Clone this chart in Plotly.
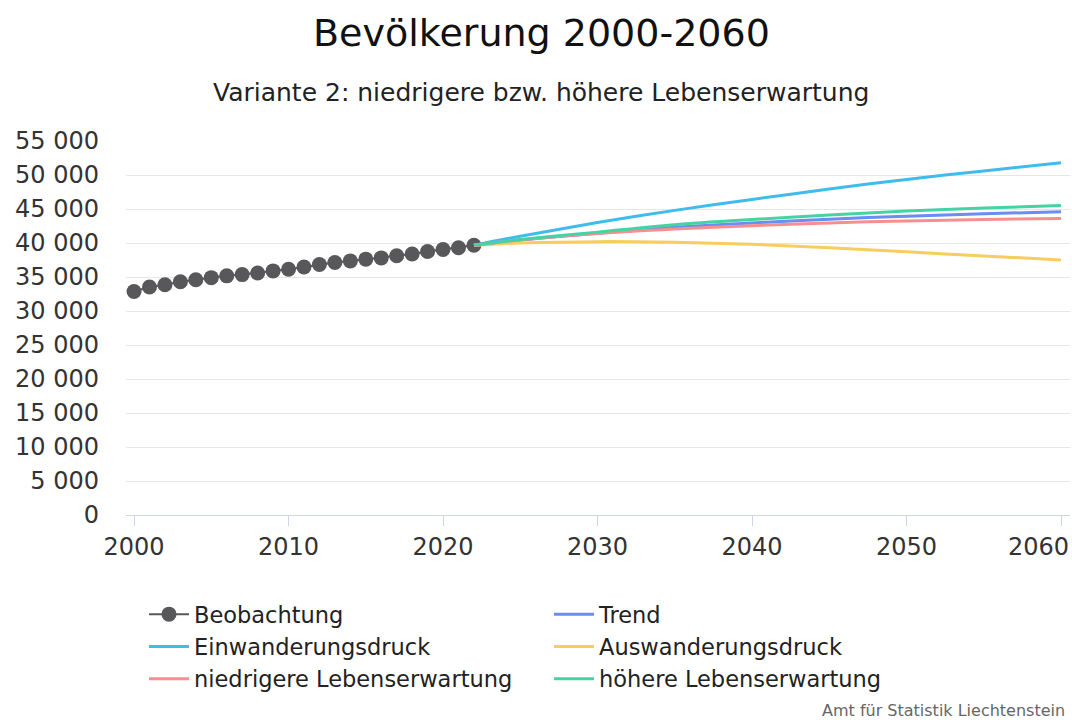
import plotly.graph_objects as go

obs_years = list(range(2000, 2023))
obs_values = [32863, 33525, 33863, 34294, 34600, 34905, 35168, 35356, 35589, 35894,
              36149, 36475, 36838, 37129, 37366, 37622, 37810, 38114, 38378, 38747,
              39055, 39308, 39680]

proj_years = [2022, 2025, 2030, 2035, 2040, 2045, 2050, 2055, 2060]
trend = [39680, 40450, 41450, 42300, 42950, 43500, 43950, 44300, 44600]
einwanderung = [39680, 41000, 43000, 44800, 46400, 47950, 49350, 50600, 51800]
auswanderung = [39680, 40000, 40200, 40100, 39800, 39300, 38700, 38100, 37500]
niedrigere = [39680, 40450, 41400, 42050, 42550, 42950, 43250, 43450, 43600]
hoehere = [39680, 40500, 41600, 42700, 43450, 44100, 44700, 45150, 45500]

y_ticks = list(range(0, 55001, 5000))
x_ticks = [2000, 2010, 2020, 2030, 2040, 2050, 2060]
x_labels = ["2000", "2010", "2020", "2030", "2040", "2050", "2060"]

FONT = "DejaVu Sans"
W, H = 1072, 720
L, R, T, B = 126, 2, 141, 205
PW, PH = W - L - R, H - T - B


def px_x(p):
    return (p - L) / PW


def px_y(p):
    return (H - B - p) / PH


fig = go.Figure()
fig.add_trace(go.Scatter(x=obs_years, y=obs_values, name="Beobachtung", mode="lines+markers",
                         line=dict(color="#58585b", width=2), marker=dict(size=15, color="#58585b")))
series = [
    ("Trend", trend, "#6a8cf3"),
    ("Einwanderungsdruck", einwanderung, "#3fbcec"),
    ("Auswanderungsdruck", auswanderung, "#f6cd5f"),
    ("niedrigere Lebenserwartung", niedrigere, "#f78f8f"),
    ("höhere Lebenserwartung", hoehere, "#45d3a3"),
]
for name, vals, col in series:
    fig.add_trace(go.Scatter(x=proj_years, y=vals, name=name, mode="lines",
                             line=dict(color=col, width=3, shape="spline", smoothing=0.8)))

# last x tick label is justified inside the figure (as in the reference)
tick_text = x_labels[:-1] + [""]

fig.update_layout(
    width=W, height=H,
    margin=dict(l=L, r=R, t=T, b=B, autoexpand=False),
    plot_bgcolor="white", paper_bgcolor="white",
    font=dict(family=FONT, color="#333333", size=22),
    separators=", ",
    showlegend=True,
    legend=dict(orientation="h", x=px_x(144), xanchor="left", y=px_y(593), yanchor="top",
                entrywidth=350, entrywidthmode="pixels", font=dict(size=22.5, color="#222222"),
                tracegroupgap=0, itemwidth=40),
    annotations=[
        dict(text="Bevölkerung 2000-2060", x=px_x(541), y=px_y(33), xref="paper", yref="paper",
             xanchor="center", yanchor="middle", showarrow=False,
             font=dict(size=38, color="#111111")),
        dict(text="Variante 2: niedrigere bzw. höhere Lebenserwartung", x=px_x(541), y=px_y(93),
             xref="paper", yref="paper", xanchor="center", yanchor="middle", showarrow=False,
             font=dict(size=25, color="#222222")),
        dict(text="Amt für Statistik Liechtenstein", x=px_x(1067), y=px_y(710), showarrow=False,
             xref="paper", yref="paper", xanchor="right", yanchor="middle",
             font=dict(size=16, color="#666666")),
        dict(text=x_labels[-1], x=x_ticks[-1], xref="x", y=px_y(547), yref="paper",
             xanchor="center", yanchor="middle", xshift=-23, showarrow=False,
             font=dict(size=24, color="#333333")),
    ],
)

fig.update_xaxes(range=[1999.48, 2060.58], tickvals=x_ticks, ticktext=tick_text, showgrid=False,
                 showline=True, linecolor="#ccd6eb", linewidth=1,
                 ticks="outside", tickcolor="#ccd6eb", ticklen=10,
                 tickfont=dict(size=24, color="#333333"), zeroline=False)
fig.update_yaxes(range=[0, 55000], tickvals=y_ticks, tickformat=",d", showgrid=True,
                 gridcolor="#e6e6e6", gridwidth=1, zeroline=False, showline=False,
                 tickfont=dict(size=24, color="#333333"), ticklabelstandoff=26)

fig.write_html("out.html", config={"displayModeBar": False},
               post_script="document.body.style.margin='0px';")
